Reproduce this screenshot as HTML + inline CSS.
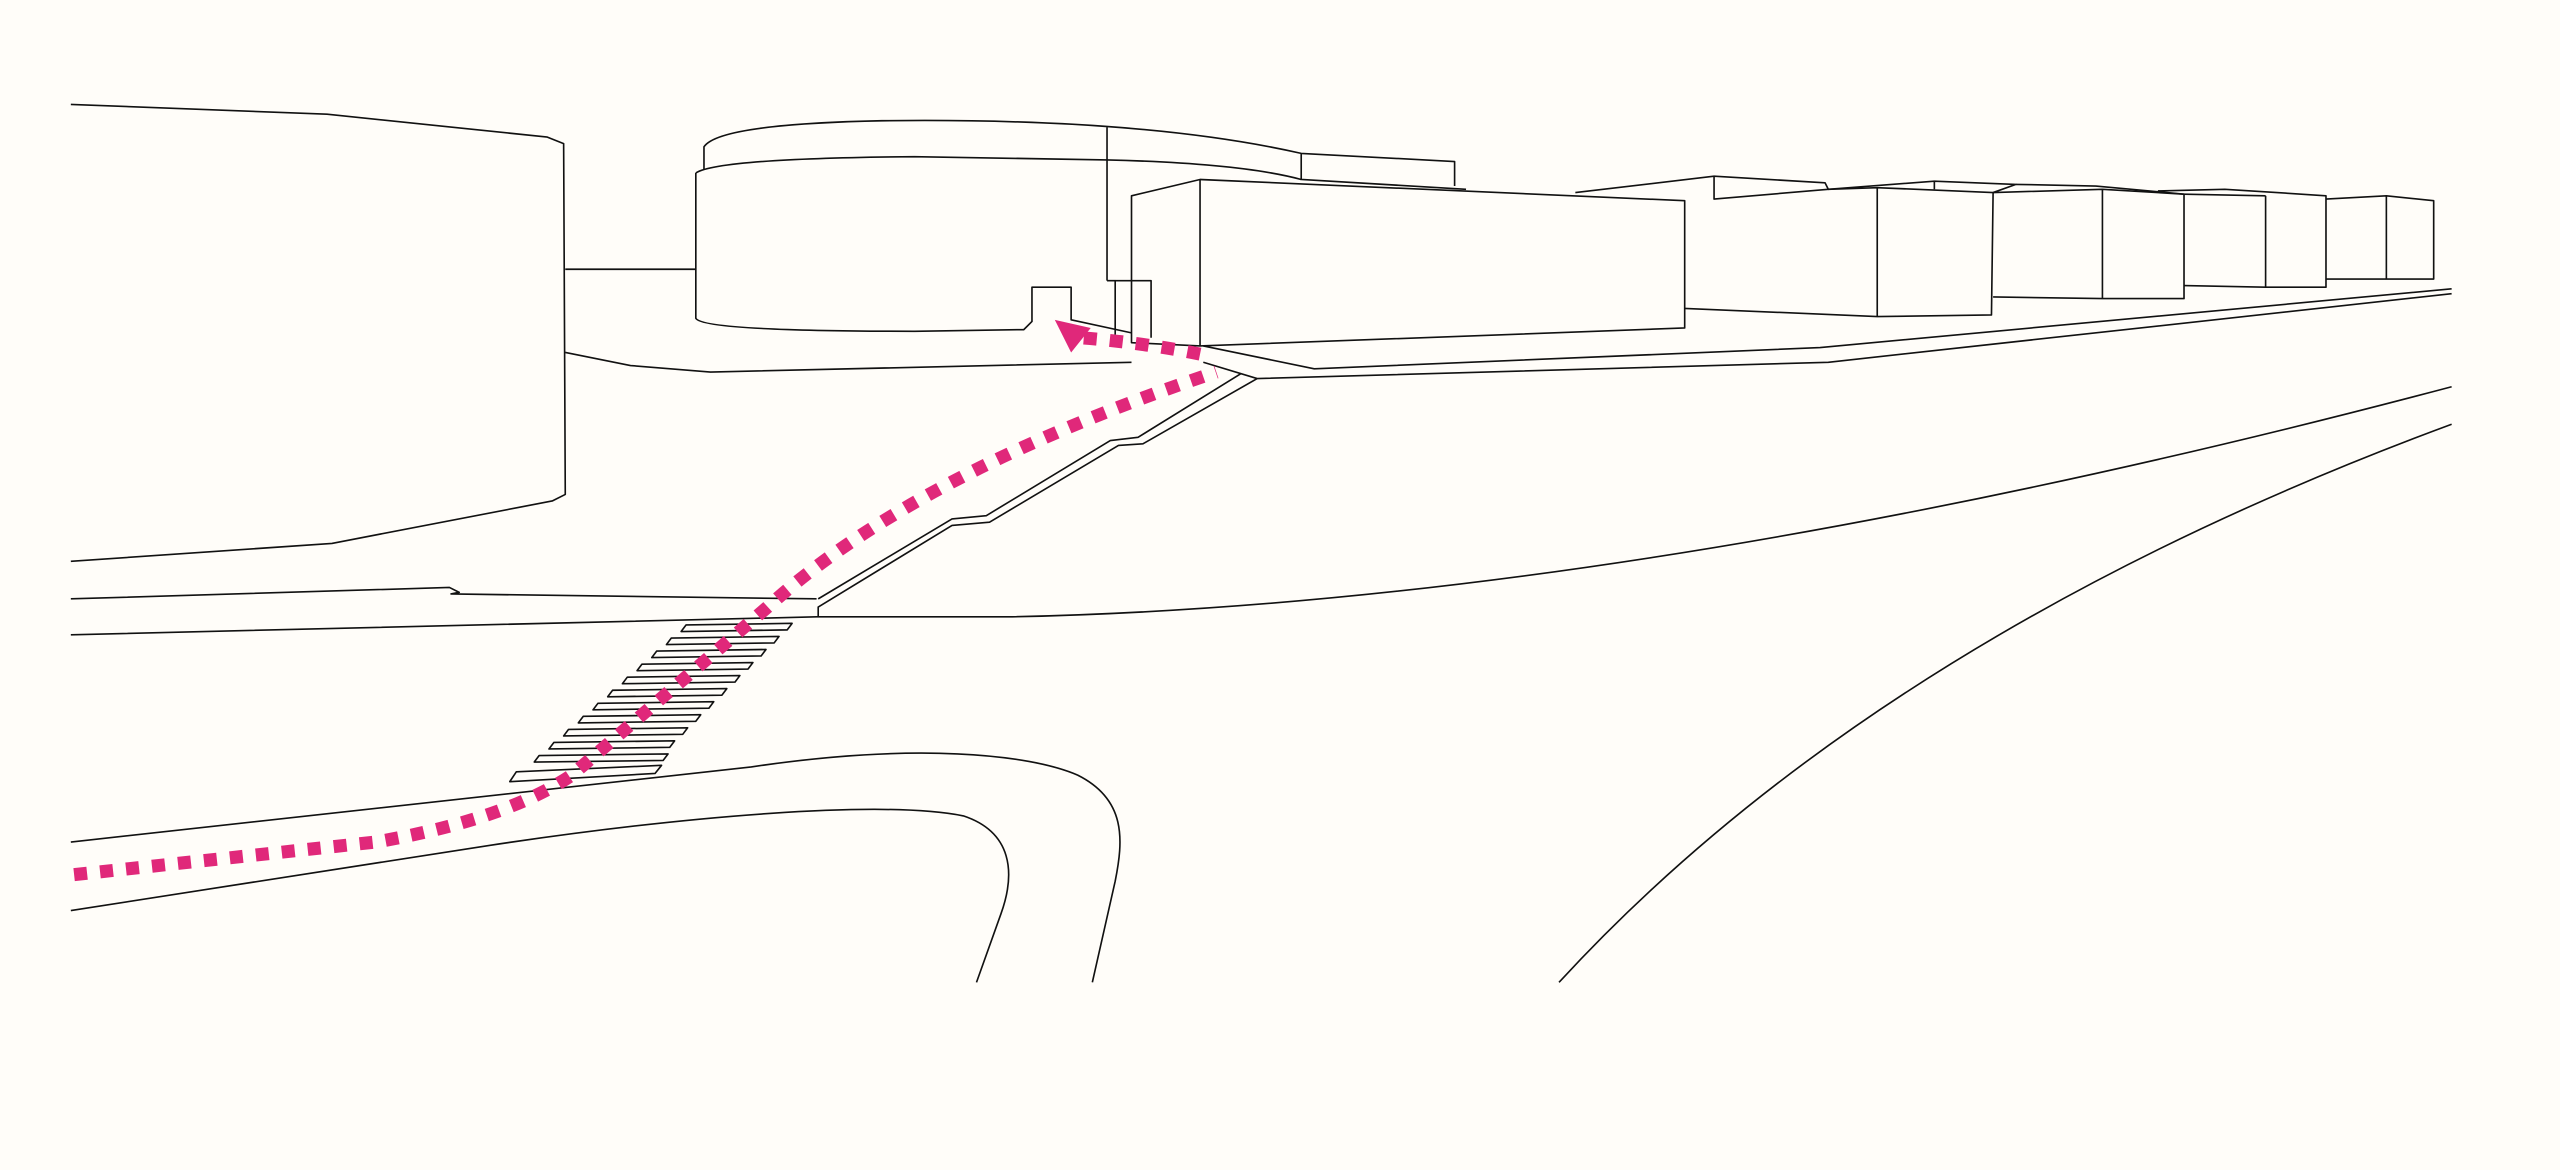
<!DOCTYPE html>
<html><head><meta charset="utf-8"><style>
html,body{margin:0;padding:0;background:#fffdf9;width:2560px;height:1170px;overflow:hidden}
svg{display:block}
</style></head><body>
<svg width="2560" height="1170" viewBox="0 0 1568 717" xmlns="http://www.w3.org/2000/svg">
<rect width="1568" height="717" fill="#fffdf9"/>
<g fill="none" stroke="#111" stroke-width="1" stroke-linejoin="round">
<polyline points="43,64 200,70 335,84 345,88 346,303 338,307 203,333 43,344"/>
<line x1="346" y1="165" x2="426" y2="165"/>
<polyline points="346,216 386,224 435,228 693,222"/>
<path d="M431,104 L431,90 Q440,76 540,74 Q700,72 797,94 L891,99 L891,114"/>
<path d="M426,106 Q440,97 560,96 L678,98 Q760,100 797,110"/>
<path d="M797,94 L797,110 L898,116"/>
<path d="M426,106 L426,195 Q430,203 560,203 L627,202 L632,197 L632,176 L656,176 L656,196 L693,204"/>
<line x1="678" y1="78" x2="678" y2="172"/>
<polyline points="678,172 683,172"/>
<polygon points="693,120 735,110 1032,123 1032,201 735,212 693,210"/>
<line x1="735" y1="110" x2="735" y2="212"/>
<polyline points="683,205 683,172 705,172 705,207"/>
<polyline points="965,118 1050,108 1118,112 1120,116 1150,115 1221,118 1220,193 1150,194 1032,189"/>
<line x1="1150" y1="115" x2="1150" y2="194"/>
<polyline points="1050,108 1050,122 1120,116"/>
<polyline points="1120,116 1185,111 1235,113 1221,118"/>
<polyline points="1185,111 1185,116"/>
<polyline points="1235,113 1284,114 1338,119 1338,183 1288,183 1221,182"/>
<polyline points="1221,118 1288,116 1338,119"/>
<line x1="1288" y1="116" x2="1288" y2="183"/>
<polyline points="1322,117 1363,116 1395,118 1425,120 1425,176 1388,176 1338,175"/>
<polyline points="1338,119 1388,120"/>
<line x1="1388" y1="120" x2="1388" y2="176"/>
<polyline points="1425,122 1462,120 1491,123 1491,171 1462,171 1425,171"/>
<line x1="1462" y1="120" x2="1462" y2="171"/>
<polyline points="737,212 805,226 1115,213 1502,177"/>
<polyline points="737,222 770,232 1120,222 1502,180"/>
<polyline points="770,232 700,272 685,273 606,320 583,322 501,372 501,378"/>
<polyline points="760,229 697,268 680,270 604,316 583,318 501,367"/>
<polyline points="43,367 275,360 281,363 276,364 500,367"/>
<path d="M43,389 L500,378 L620,378 Q1000,370 1502,237"/>
<path d="M955,602 Q1150,390 1502,260"/>
<path d="M43,516 L460,470 C560,455 630,462 660,475 C690,490 688,515 683,540 L669,602"/>
<path d="M43,558 L300,518 C420,500 540,490 590,500 C620,510 622,535 613,560 L598,602"/>
<g>
<polygon points="420,383 485,382 482,386 417,387"/>
<polygon points="411,391 477,390 474,394 408,395"/>
<polygon points="402,399 469,398 466,402 399,403"/>
<polygon points="393,407 461,406 458,410 390,411"/>
<polygon points="384,415 453,414 450,418 381,419"/>
<polygon points="375,423 445,422 442,426 372,427"/>
<polygon points="366,431 437,430 434,434 363,435"/>
<polygon points="357,439 429,438 426,442 354,443"/>
<polygon points="348,447 421,446 418,450 345,451"/>
<polygon points="339,455 413,454 410,458 336,459"/>
<polygon points="330,463 409,462 406,466 327,467"/>
<polygon points="316,473 405,469 401,474 312,479"/>
</g>
</g>
<g fill="none" stroke="#e0287a" stroke-width="8" stroke-dasharray="8,8">
<path d="M45,536 L230,516 Q310,502 350,475 L470,372 Q560,290 745,228"/>
<path d="M735,217 Q700,210 662,207"/>
</g>
<polygon points="646,196 668,201 656,216" fill="#e0287a"/>
</svg>
</body></html>
